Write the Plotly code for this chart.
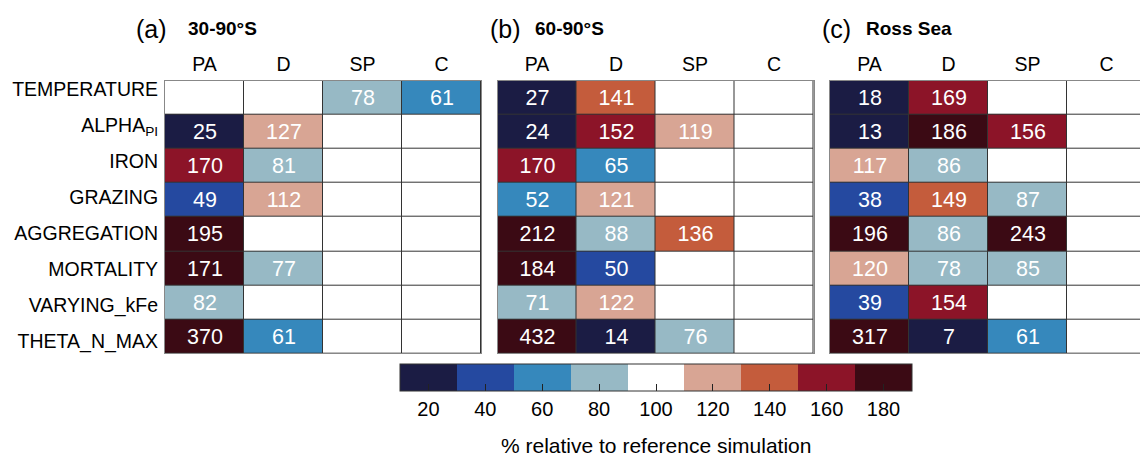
import plotly.graph_objects as go

# Sensitivity experiments (rows) and phytoplankton groups (columns)
parameters = ["TEMPERATURE", "ALPHA<sub>PI</sub>", "IRON", "GRAZING",
              "AGGREGATION", "MORTALITY", "VARYING_kFe", "THETA_N_MAX"]
groups = ["PA", "D", "SP", "C"]

# % change relative to the reference simulation (None = no significant change)
south_30_90 = [
    [None, None, 78, 61],
    [25, 127, None, None],
    [170, 81, None, None],
    [49, 112, None, None],
    [195, None, None, None],
    [171, 77, None, None],
    [82, None, None, None],
    [370, 61, None, None],
]
south_60_90 = [
    [27, 141, None, None],
    [24, 152, 119, None],
    [170, 65, None, None],
    [52, 121, None, None],
    [212, 88, 136, None],
    [184, 50, None, None],
    [71, 122, None, None],
    [432, 14, 76, None],
]
ross_sea = [
    [18, 169, None, None],
    [13, 186, 156, None],
    [117, 86, None, None],
    [38, 149, 87, None],
    [196, 86, 243, None],
    [120, 78, 85, None],
    [39, 154, None, None],
    [317, 7, 61, None],
]

panel_tags = ["(a)", "(b)", "(c)"]
panel_names = ["30-90°S", "60-90°S", "Ross Sea"]
panel_data = [south_30_90, south_60_90, ross_sea]
colorbar_ticks = [20, 40, 60, 80, 100, 120, 140, 160, 180]
colorbar_label = "% relative to reference simulation"

# Discrete palette, one colour per 20 % bin from 10 to 190
bin_colors = ["#1b1c44", "#2549a0", "#3688bc", "#97b9c5", "#ffffff",
              "#d8a594", "#c45c3c", "#8c1428", "#3b0a14"]
ZMIN, ZMAX = 10, 190

W, H = 1140, 458
FONT = "Liberation Sans, Arial, Helvetica, sans-serif"

# Stepped colour scale; bins include their upper edge
eps = 1e-4
nb = len(bin_colors)
colorscale = []
for k, c in enumerate(bin_colors):
    lo = 0.0 if k == 0 else k / nb + eps
    hi = 1.0 if k == nb - 1 else (k + 1) / nb + eps
    colorscale.append([lo, c])
    colorscale.append([hi, c])

# Pixel layout of the three panels
panel_left = [165, 497.5, 830]
col_w = 79
grid_top, grid_bottom = 79, 353
row_h = (grid_bottom - grid_top) / len(parameters)
title_x = [(134, 186), (488, 533), (820, 864)]

# Row names are set on a slightly wider pitch than the rows themselves
label_first_px, label_pitch_px = 88, 36.1
label_pos = [(label_first_px + label_pitch_px * k - grid_top) / row_h - 0.5
             for k in range(len(parameters))]

fig = go.Figure()

for i, data in enumerate(panel_data):
    z = [[(v if v is not None else 100) for v in row] for row in data]
    txt = [[("" if v is None else str(v)) for v in row] for row in data]
    n = "" if i == 0 else str(i + 1)
    trace = go.Heatmap(
        x=list(range(len(groups))),
        y=list(range(len(parameters))),
        z=z,
        text=txt,
        texttemplate="%{text}",
        textfont=dict(color="white", size=21.5, family=FONT),
        colorscale=colorscale,
        zmin=ZMIN, zmax=ZMAX,
        xgap=1, ygap=1,
        hoverinfo="skip",
        xaxis="x" + n, yaxis="y" + n,
        showscale=(i == 0),
    )
    if i == 0:
        trace.colorbar = dict(
            orientation="h",
            x=656 / W, xanchor="center",
            y=1 - 364 / H, yanchor="top",
            len=512 / W, lenmode="fraction",
            thickness=27, thicknessmode="pixels",
            xpad=0, ypad=0,
            outlinewidth=1, outlinecolor="#333333",
            tickvals=colorbar_ticks,
            ticks="inside", ticklen=7, tickcolor="#222222",
            tickfont=dict(size=20, family=FONT, color="black"),
        )
    fig.add_trace(trace)

    left = panel_left[i]
    right = min(left + col_w * len(groups), W)
    x_hi = -0.5 + (right - left) / col_w
    fig.update_layout(**{
        "xaxis" + n: dict(
            domain=[left / W, right / W],
            range=[-0.5, x_hi],
            side="top",
            tickmode="array", tickvals=list(range(len(groups))), ticktext=groups,
            tickfont=dict(size=19.5, family=FONT, color="black"),
            ticks="", ticklabelstandoff=1,
            showline=True, mirror=True, linecolor="#888888", linewidth=1,
            showgrid=False, zeroline=False, fixedrange=True,
            anchor="y" + n,
        ),
        "yaxis" + n: dict(
            domain=[1 - grid_bottom / H, 1 - grid_top / H],
            range=[len(parameters) - 0.5, -0.5],
            tickmode="array", tickvals=label_pos, ticktext=parameters,
            showticklabels=(i == 0),
            tickfont=dict(size=19.5, family=FONT, color="black"),
            ticks="", ticklabelstandoff=2,
            showline=True, mirror=(i < 2), linecolor="#888888", linewidth=1,
            showgrid=False, zeroline=False, fixedrange=True,
            anchor="x" + n,
        ),
    })

    tx, nx = title_x[i]
    fig.add_annotation(text=panel_tags[i], x=tx / W, y=1 - 27 / H, xref="paper", yref="paper",
                       xanchor="left", yanchor="middle", showarrow=False,
                       font=dict(size=25, family=FONT, color="black"))
    fig.add_annotation(text="<b>" + panel_names[i] + "</b>", x=nx / W, y=1 - 27 / H,
                       xref="paper", yref="paper", xanchor="left", yanchor="middle",
                       showarrow=False, font=dict(size=19, family=FONT, color="black"))

# Colour bar caption
fig.add_annotation(text=colorbar_label, x=656 / W, y=1 - 445 / H, xref="paper", yref="paper",
                   xanchor="center", yanchor="middle", showarrow=False,
                   font=dict(size=21, family=FONT, color="black"))

fig.update_layout(
    width=W, height=H,
    margin=dict(l=0, r=0, t=0, b=0),
    paper_bgcolor="white",
    plot_bgcolor="#333333",
    showlegend=False,
)

fig.write_html("out.html", config={"displayModeBar": False})
